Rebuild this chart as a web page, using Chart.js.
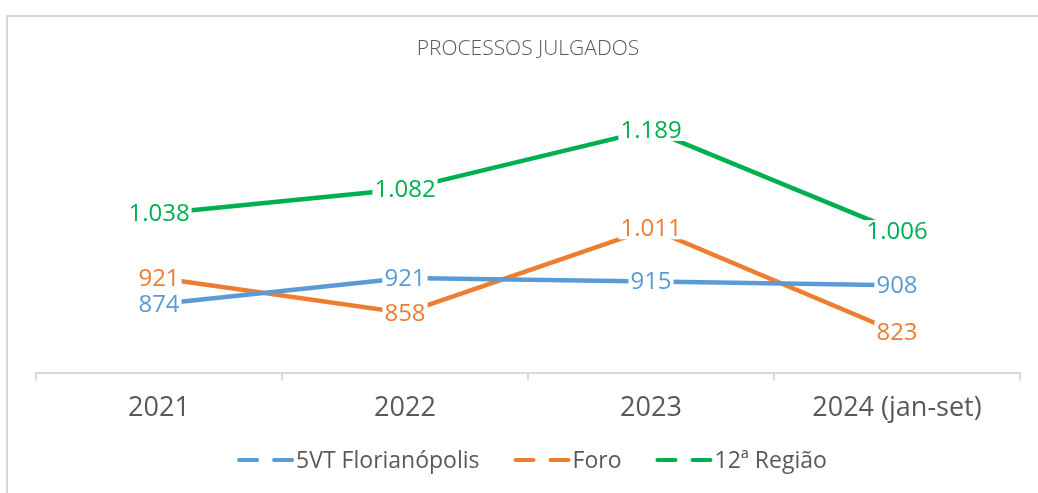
<!DOCTYPE html>
<html><head><meta charset="utf-8">
<script src="https://cdn.jsdelivr.net/npm/chart.js@4/dist/chart.umd.min.js"></script>
<style>html,body{margin:0;padding:0;background:#fff;overflow:hidden}canvas{display:block}</style>
</head><body><canvas id="c" width="1038" height="493"></canvas>
<script>
const categories = ['2021', '2022', '2023', '2024 (jan-set)'];
const vt5Florianopolis = [874, 921, 915, 908];
const foro = [921, 858, 1011, 823];
const regiao12 = [1038, 1082, 1189, 1006];
const seriesNames = ['5VT Florianópolis', 'Foro', '12ª Região'];
const seriesColors = ['#5B9BD5', '#ED7D31', '#00B050'];
const titleText = 'PROCESSOS JULGADOS';
const FONT = '"Open Sans", "Noto Sans", sans-serif';

function fmt(v) { return String(v).replace(/\B(?=(\d{3})+(?!\d))/g, '.'); }

const framePlugin = {
  id: 'frame',
  beforeDraw(chart) {
    const ctx = chart.ctx;
    ctx.save();
    ctx.fillStyle = '#fff';
    ctx.fillRect(0, 0, chart.width, chart.height);
    ctx.strokeStyle = '#d9d9d9';
    ctx.lineWidth = 2;
    ctx.strokeRect(7, 16, 1200, 700);
    ctx.restore();
  }
};

const valueLabels = {
  id: 'valueLabels',
  afterDatasetsDraw(chart) {
    const ctx = chart.ctx;
    ctx.save();
    ctx.font = '24px ' + FONT;
    ctx.textAlign = 'center';
    ctx.textBaseline = 'middle';
    chart.data.datasets.forEach((ds, i) => {
      const meta = chart.getDatasetMeta(i);
      meta.data.forEach((pt, j) => {
        const t = fmt(ds.data[j]);
        const w = ctx.measureText(t).width;
        ctx.fillStyle = '#fff';
        ctx.fillRect(pt.x - w / 2 - 2, pt.y - 11, w + 4, 22);
        ctx.fillStyle = ds.borderColor;
        ctx.fillText(t, pt.x, pt.y + 1);
      });
    });
    ctx.restore();
  }
};

const customLegend = {
  id: 'customLegend',
  afterDraw(chart) {
    const ctx = chart.ctx;
    ctx.save();
    ctx.font = '23px ' + FONT;
    ctx.textBaseline = 'middle';
    const markerW = 58, gapText = 1, gapItem = 34;
    const widths = seriesNames.map(n => ctx.measureText(n).width);
    const total = widths.reduce((a, b) => a + b, 0) + seriesNames.length * (markerW + gapText) + (seriesNames.length - 1) * gapItem;
    let x = (chart.chartArea.left + chart.chartArea.right) / 2 - total / 2 + 4;
    const y = 460;
    seriesNames.forEach((n, i) => {
      ctx.strokeStyle = seriesColors[i];
      ctx.lineWidth = 4;
      ctx.lineCap = 'round';
      ctx.setLineDash([18, 17]);
      ctx.beginPath();
      ctx.moveTo(x + 2, y);
      ctx.lineTo(x + markerW - 2, y);
      ctx.stroke();
      ctx.setLineDash([]);
      ctx.fillStyle = '#595959';
      ctx.fillText(n, x + markerW + gapText, y + 1);
      x += markerW + gapText + widths[i] + gapItem;
    });
    ctx.restore();
  }
};

const datasets = [vt5Florianopolis, foro, regiao12].map((d, i) => ({
  label: seriesNames[i],
  data: d,
  borderColor: seriesColors[i],
  backgroundColor: seriesColors[i],
  borderWidth: 4.5,
  pointRadius: 0,
  tension: 0,
  fill: false
}));

new Chart(document.getElementById('c'), {
  type: 'line',
  data: { labels: categories, datasets },
  options: {
    responsive: false,
    animation: false,
    layout: { padding: { left: 36, right: 18, top: 0, bottom: 56 } },
    plugins: {
      legend: { display: false },
      tooltip: { enabled: false },
      title: {
        display: true,
        text: titleText,
        color: '#595959',
        font: { family: FONT, size: 21, weight: '300' },
        padding: { top: 36, bottom: 35 }
      }
    },
    scales: {
      x: {
        offset: true,
        grid: { offset: true, drawOnChartArea: false, drawTicks: true, tickLength: 8, color: '#d9d9d9', lineWidth: 2 },
        border: { color: '#d9d9d9', width: 2 },
        ticks: { color: '#595959', font: { family: FONT, size: 27 }, padding: 12, maxRotation: 0 }
      },
      y: { display: false, min: 750, max: 1250 }
    }
  },
  plugins: [framePlugin, valueLabels, customLegend]
});
</script>
</body></html>
